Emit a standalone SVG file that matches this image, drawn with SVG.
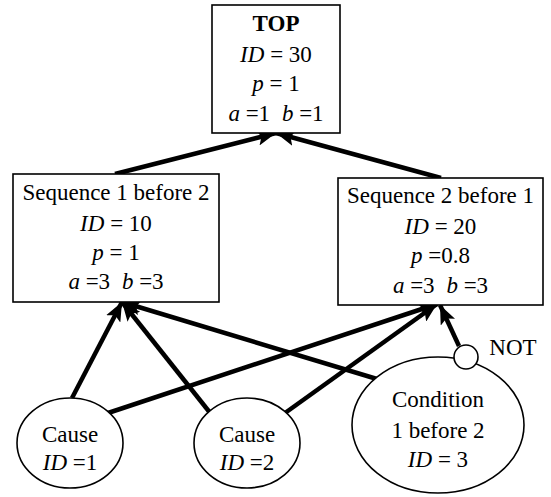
<svg xmlns="http://www.w3.org/2000/svg" width="551" height="497" viewBox="0 0 551 497">
<style>
.box{fill:#fff;stroke:#000;stroke-width:1.6}
.node{fill:#fff;stroke:#000;stroke-width:1.6}
.edge{stroke:#000;stroke-width:4.5;fill:none;marker-end:url(#ah)}
</style>
<defs>
<marker id="ah" markerUnits="userSpaceOnUse" markerWidth="20" markerHeight="16" viewBox="0 0 20 16" refX="19" refY="8" orient="auto">
<path d="M0,0 L19,8 L0,16 L4,8 z" fill="#000"/>
</marker>
</defs>
<g id="connectors">
<line class="edge" x1="115" y1="174" x2="276" y2="133"/>
<line class="edge" x1="441" y1="178" x2="276" y2="133"/>
<line class="edge" x1="72" y1="398" x2="122" y2="302"/>
<line class="edge" x1="211" y1="414" x2="122" y2="302"/>
<line class="edge" x1="377" y1="379" x2="122" y2="302"/>
<line class="edge" x1="108" y1="413" x2="437" y2="304"/>
<line class="edge" x1="285" y1="413" x2="437" y2="304"/>
<line class="edge" x1="459" y1="346" x2="440" y2="305"/>
</g>
<g id="top">
<rect class="box" x="212" y="5" width="128" height="128"/>
<text x="276" y="31" font-family="Liberation Serif" font-size="23" text-anchor="middle" font-weight="bold">TOP</text>
<text x="276" y="62" font-family="Liberation Serif" font-size="23" text-anchor="middle"><tspan font-style="italic">ID</tspan> = 30</text>
<text x="276" y="91" font-family="Liberation Serif" font-size="23" text-anchor="middle"><tspan font-style="italic">p</tspan> = 1</text>
<text x="276" y="121" font-family="Liberation Serif" font-size="23" text-anchor="middle"><tspan font-style="italic">a</tspan> =1 <tspan font-style="italic" dx="6">b</tspan> =1</text>
</g>
<g id="seq12">
<rect class="box" x="13" y="174" width="206" height="128"/>
<text x="116" y="200" font-family="Liberation Serif" font-size="23" text-anchor="middle">Sequence 1 before 2</text>
<text x="116" y="231" font-family="Liberation Serif" font-size="23" text-anchor="middle"><tspan font-style="italic">ID</tspan> = 10</text>
<text x="116" y="260" font-family="Liberation Serif" font-size="23" text-anchor="middle"><tspan font-style="italic">p</tspan> = 1</text>
<text x="116" y="289" font-family="Liberation Serif" font-size="23" text-anchor="middle"><tspan font-style="italic">a</tspan> =3 <tspan font-style="italic" dx="6">b</tspan> =3</text>
</g>
<g id="seq21">
<rect class="box" x="338" y="178" width="205" height="127"/>
<text x="440.5" y="203" font-family="Liberation Serif" font-size="23" text-anchor="middle">Sequence 2 before 1</text>
<text x="440.5" y="234" font-family="Liberation Serif" font-size="23" text-anchor="middle"><tspan font-style="italic">ID</tspan> = 20</text>
<text x="440.5" y="263" font-family="Liberation Serif" font-size="23" text-anchor="middle"><tspan font-style="italic">p</tspan> =0.8</text>
<text x="440.5" y="293" font-family="Liberation Serif" font-size="23" text-anchor="middle"><tspan font-style="italic">a</tspan> =3 <tspan font-style="italic" dx="6">b</tspan> =3</text>
</g>
<g id="cause1">
<ellipse class="node" cx="70" cy="443" rx="53" ry="45"/>
<text x="70" y="442" font-family="Liberation Serif" font-size="23" text-anchor="middle">Cause</text>
<text x="70" y="470" font-family="Liberation Serif" font-size="23" text-anchor="middle"><tspan font-style="italic">ID</tspan> =1</text>
</g>
<g id="cause2">
<ellipse class="node" cx="247" cy="443" rx="53" ry="45"/>
<text x="247" y="442" font-family="Liberation Serif" font-size="23" text-anchor="middle">Cause</text>
<text x="247" y="470" font-family="Liberation Serif" font-size="23" text-anchor="middle"><tspan font-style="italic">ID</tspan> =2</text>
</g>
<g id="condition">
<ellipse class="node" cx="438" cy="425" rx="86" ry="68"/>
<text x="438" y="407" font-family="Liberation Serif" font-size="23" text-anchor="middle">Condition</text>
<text x="438" y="438" font-family="Liberation Serif" font-size="23" text-anchor="middle">1 before 2</text>
<text x="438" y="467" font-family="Liberation Serif" font-size="23" text-anchor="middle"><tspan font-style="italic">ID</tspan> = 3</text>
</g>
<g id="not">
<circle class="node" cx="466" cy="357" r="12"/>
<text x="513" y="355" font-family="Liberation Serif" font-size="23" text-anchor="middle">NOT</text>
</g>
</svg>
